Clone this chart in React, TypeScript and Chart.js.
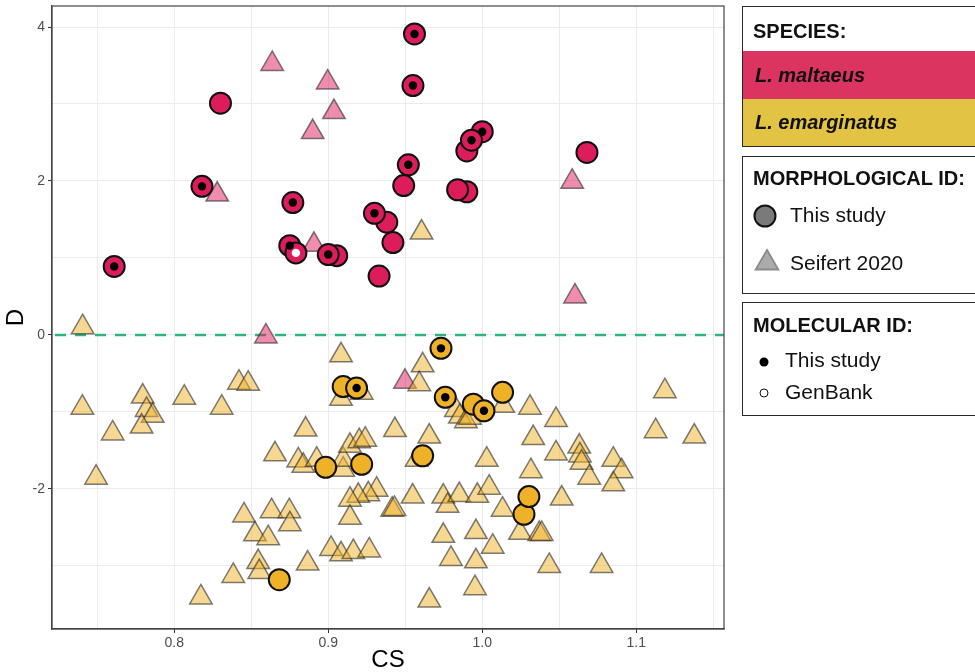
import React, { useEffect, useRef } from "react";
import { Chart, registerables } from "chart.js";
Chart.register(...registerables);

// ---- Data ----
// L. maltaeus, morphological ID: this study (circles). Molecular: S = this study, G = GenBank
const maltaeusStudyCS = [0.830, 0.818, 0.761, 0.877, 0.875, 0.879, 0.9055, 0.900, 0.942, 0.938, 0.930, 0.933, 0.956, 0.955, 1.000, 0.990, 0.993, 0.952, 0.949, 0.990, 0.984, 1.068];
const maltaeusStudyD = [3.01, 1.93, 0.89, 1.72, 1.16, 1.066, 1.03, 1.044, 1.20, 1.464, 1.58, 0.765, 3.91, 3.24, 2.64, 2.39, 2.53, 2.21, 1.94, 1.86, 1.886, 2.37];
const maltaeusStudyMol = ["", "S", "S", "S", "S", "G", "", "S", "", "", "S", "", "S", "S", "S", "", "S", "S", "", "", "", ""];

// L. emarginatus, morphological ID: this study (circles)
const emarginatusStudyCS = [0.9097, 0.9184, 0.8983, 0.9217, 0.8682, 0.9732, 0.976, 0.9942, 1.0011, 1.0132, 0.9613, 1.0271, 1.0303];
const emarginatusStudyD = [-0.67, -0.69, -1.72, -1.68, -3.18, -0.174, -0.81, -0.90, -0.985, -0.746, -1.57, -2.33, -2.10];
const emarginatusStudyMol = ["", "S", "", "", "", "S", "S", "", "S", "", "", "", ""];

// L. maltaeus, Seifert 2020 (triangles)
const maltaeusSeifertCS = [0.8636, 0.8996, 0.9037, 0.8899, 0.8279, 0.8907, 0.8595, 1.0584, 1.0602, 0.9498];
const maltaeusSeifertD = [3.52, 3.28, 2.895, 2.635, 1.824, 1.17, -0.02, 1.99, 0.50, -0.607];

// L. emarginatus, Seifert 2020 (triangles)
const emarginatusSeifertCS = [
  0.7405, 0.9606, 0.9083, 0.842, 0.848, 0.7795, 0.8065, 0.7403, 0.8308, 0.782, 0.786, 0.7788, 0.760, 0.9083, 0.9217,
  0.7492, 0.8853, 0.8654, 0.8805, 0.8838, 0.8925, 0.9097, 0.9097, 0.9141, 0.9201, 0.924, 0.9314, 0.926, 0.9195, 0.9141,
  0.9141, 0.8453, 0.8632, 0.8747, 0.8751, 0.8524, 0.861, 0.8545, 0.8552, 0.8383, 0.8866, 0.8173, 0.9018, 0.9083, 0.9163,
  0.9266, 0.9613, 0.9591, 0.9829, 0.9855, 0.9894, 0.992, 1.0136, 1.031, 1.0479, 0.9433, 0.9656, 1.0331, 1.0029, 1.0479,
  1.063, 1.0634, 1.0645, 1.0695, 1.0851, 1.0905, 1.0851, 1.1186, 1.1126, 1.1377, 0.9574, 1.0316, 0.9415, 0.943, 0.9548,
  0.9747, 0.9775, 0.9851, 0.9968, 1.0045, 1.0132, 1.0516, 1.0245, 1.037, 1.0386, 0.9747, 0.9959, 1.0068, 0.9797, 0.9959,
  1.0435, 1.0775, 0.9953, 0.9656,
];
const emarginatusSeifertD = [
  0.10, 1.33, -0.265, -0.62, -0.633, -0.80, -0.815, -0.945, -0.945, -0.975, -1.05, -1.19, -1.28, -0.83, -0.75,
  -1.855, -1.23, -1.55, -1.63, -1.70, -1.62, -1.75, -1.62, -1.44, -1.38, -1.36, -2.01, -2.07, -2.09, -2.14,
  -2.375, -2.345, -2.29, -2.29, -2.46, -2.59, -2.64, -2.95, -3.08, -3.13, -2.97, -3.41, -2.78, -2.85, -2.82,
  -2.80, -0.395, -0.64, -0.975, -1.06, -1.12, -1.075, -0.92, -0.945, -1.105, -1.235, -1.32, -1.34, -1.62, -1.54,
  -1.45, -1.565, -1.66, -1.855, -1.62, -1.77, -1.94, -0.73, -1.25, -1.32, -1.62, -1.77, -2.27, -2.26, -2.10,
  -2.10, -2.22, -2.08, -2.09, -1.985, -2.27, -2.125, -2.57, -2.585, -2.585, -2.61, -2.56, -2.75, -2.91, -2.94,
  -3.0, -3.0, -3.29, -3.45,
];

// Axis
const xMin = 0.7206;
const xMax = 1.157;
const yMin = -3.82;
const yMax = 4.273;
const xGridValues = [0.75, 0.8, 0.85, 0.9, 0.95, 1.0, 1.05, 1.1, 1.15];
const xLabelValues = [0.8, 0.9, 1.0, 1.1];
const yGridValues = [-3, -2, -1, 0, 1, 2, 3, 4];
const yLabelValues = [-2, 0, 2, 4];
const referenceD = 0;

// ---- Styles ----
const FONT = '"Liberation Sans", Arial, Helvetica, sans-serif';
const MAGENTA = "#DD1C5B";
const GOLD = "#EFB128";
const PINK_T = "rgba(221,28,91,0.5)";
const GOLD_T = "rgba(239,177,40,0.5)";
const TRI_BORDER = "rgba(40,40,40,0.6)";

const pts = (xs: number[], ys: number[]) => xs.map((x, i) => ({ x, y: ys[i] }));
const ptsMol = (xs: number[], ys: number[], mol: string[], flag: string) =>
  xs.map((x, i) => ({ x, y: ys[i], m: mol[i] })).filter((p) => p.m === flag).map((p) => ({ x: p.x, y: p.y }));

const near = (a: number, list: number[]) => list.some((v) => Math.abs(v - a) < 1e-6);

const frameAndRefLine = {
  id: "frameAndRefLine",
  beforeDatasetsDraw(chart: any) {
    const { ctx, chartArea, scales } = chart;
    const y = scales.y.getPixelForValue(referenceD);
    ctx.save();
    ctx.strokeStyle = "#2DB67C";
    ctx.lineWidth = 2.5;
    ctx.setLineDash([11, 9]);
    ctx.lineDashOffset = -3;
    ctx.beginPath();
    ctx.moveTo(chartArea.left, y);
    ctx.lineTo(chartArea.right, y);
    ctx.stroke();
    ctx.restore();
  },
  afterDraw(chart: any) {
    const { ctx, chartArea } = chart;
    ctx.save();
    ctx.strokeStyle = "#444";
    ctx.lineWidth = 1.2;
    ctx.strokeRect(chartArea.left, chartArea.top, chartArea.right - chartArea.left, chartArea.bottom - chartArea.top);
    ctx.restore();
  },
};

function Txt(props: { x: number; cy: number; children: any; style?: any }) {
  return (
    <div
      style={{
        position: "absolute",
        left: props.x,
        top: props.cy - 15,
        height: 30,
        lineHeight: "30px",
        whiteSpace: "nowrap",
        fontFamily: FONT,
        color: "#111",
        ...props.style,
      }}
    >
      {props.children}
    </div>
  );
}

export default function App() {
  const ref = useRef<HTMLCanvasElement>(null);

  useEffect(() => {
    const canvas = ref.current!;
    const chart = new Chart(canvas, {
      type: "scatter",
      data: {
        datasets: [
          {
            label: "Molecular: this study",
            data: [
              ...ptsMol(maltaeusStudyCS, maltaeusStudyD, maltaeusStudyMol, "S"),
              ...ptsMol(emarginatusStudyCS, emarginatusStudyD, emarginatusStudyMol, "S"),
            ],
            pointStyle: "circle",
            pointRadius: 4.2,
            pointBorderWidth: 0,
            backgroundColor: "#000",
            borderColor: "#000",
          },
          {
            label: "Molecular: GenBank",
            data: [
              ...ptsMol(maltaeusStudyCS, maltaeusStudyD, maltaeusStudyMol, "G"),
              ...ptsMol(emarginatusStudyCS, emarginatusStudyD, emarginatusStudyMol, "G"),
            ],
            pointStyle: "circle",
            pointRadius: 4.2,
            pointBorderWidth: 0,
            backgroundColor: "#fff",
            borderColor: "#fff",
          },
          {
            label: "L. maltaeus (this study)",
            data: pts(maltaeusStudyCS, maltaeusStudyD),
            pointStyle: "circle",
            pointRadius: 10.5,
            pointBorderWidth: 2,
            backgroundColor: MAGENTA,
            borderColor: "#111",
          },
          {
            label: "L. emarginatus (this study)",
            data: pts(emarginatusStudyCS, emarginatusStudyD),
            pointStyle: "circle",
            pointRadius: 10.5,
            pointBorderWidth: 2,
            backgroundColor: GOLD,
            borderColor: "#111",
          },
          {
            label: "L. emarginatus (Seifert 2020)",
            data: pts(emarginatusSeifertCS, emarginatusSeifertD),
            pointStyle: "triangle",
            pointRadius: 13,
            pointBorderWidth: 1.5,
            backgroundColor: GOLD_T,
            borderColor: TRI_BORDER,
          },
          {
            label: "L. maltaeus (Seifert 2020)",
            data: pts(maltaeusSeifertCS, maltaeusSeifertD),
            pointStyle: "triangle",
            pointRadius: 13,
            pointBorderWidth: 1.5,
            backgroundColor: PINK_T,
            borderColor: TRI_BORDER,
          },
        ],
      },
      options: {
        responsive: false,
        animation: false,
        devicePixelRatio: 1,
        events: [],
        layout: { autoPadding: false, padding: { left: 0, top: 6, right: 251, bottom: 0 } },
        plugins: { legend: { display: false }, tooltip: { enabled: false } },
        scales: {
          x: {
            type: "linear",
            min: xMin,
            max: xMax,
            afterBuildTicks: (s: any) => {
              s.ticks = xGridValues.map((v) => ({ value: v }));
            },
            afterFit: (s: any) => {
              s.height = 43;
              s.paddingLeft = 0;
              s.paddingRight = 0;
            },
            ticks: {
              autoSkip: false,
              maxRotation: 0,
              padding: 2,
              color: "#4d4d4d",
              font: { family: FONT, size: 14 },
              callback: (v: any) => (near(Number(v), xLabelValues) ? Number(v).toFixed(1) : ""),
            },
            grid: {
              color: "#ebebeb",
              lineWidth: 1,
              tickLength: 4,
              tickColor: (c: any) => (c.tick && near(c.tick.value, xLabelValues) ? "#333" : "rgba(0,0,0,0)"),
            },
            border: { display: true, color: "#444", width: 1.2 },
            title: {
              display: true,
              text: "CS",
              color: "#000",
              font: { family: FONT, size: 24, lineHeight: 1 },
              padding: { top: 0, bottom: 0 },
            },
          },
          y: {
            type: "linear",
            min: yMin,
            max: yMax,
            afterBuildTicks: (s: any) => {
              s.ticks = yGridValues.map((v) => ({ value: v }));
            },
            afterFit: (s: any) => {
              s.width = 52;
              s.paddingTop = 0;
              s.paddingBottom = 0;
            },
            ticks: {
              autoSkip: false,
              padding: 3,
              color: "#4d4d4d",
              font: { family: FONT, size: 14 },
              callback: (v: any) => (near(Number(v), yLabelValues) ? String(v) : ""),
            },
            grid: {
              color: "#ebebeb",
              lineWidth: 1,
              tickLength: 4,
              tickColor: (c: any) => (c.tick && near(c.tick.value, yLabelValues) ? "#333" : "rgba(0,0,0,0)"),
            },
            border: { display: true, color: "#444", width: 1.2 },
            title: {
              display: true,
              text: "D",
              color: "#000",
              font: { family: FONT, size: 24, lineHeight: 1 },
              padding: { top: 4, bottom: 0 },
            },
          },
        },
      },
      plugins: [frameAndRefLine],
    } as any);
    return () => chart.destroy();
  }, []);

  const boxBorder = "1.5px solid #2b2b2b";
  const titleStyle = { fontWeight: "bold", fontSize: 20 };
  const speciesStyle = { fontWeight: "bold", fontStyle: "italic", fontSize: 20 };
  const itemStyle = { fontSize: 21 };

  return (
    <div
      style={{
        position: "fixed",
        left: 0,
        top: 0,
        width: 975,
        height: 672,
        overflow: "hidden",
        background: "#fff",
      }}
    >
      <canvas ref={ref} width={975} height={672} style={{ position: "absolute", left: 0, top: 0, width: 975, height: 672 }} />

      {/* Species legend */}
      <div style={{ position: "absolute", left: 742, top: 6, width: 260, height: 141, border: boxBorder, boxSizing: "border-box", overflow: "hidden" }}>
        <div style={{ position: "absolute", left: 0, top: 43.5, width: "100%", height: 48, background: "#DB3461" }} />
        <div style={{ position: "absolute", left: 0, top: 91.5, width: "100%", height: 50, background: "#E2C343" }} />
      </div>
      <Txt x={753} cy={31} style={titleStyle}>SPECIES:</Txt>
      <Txt x={755} cy={75} style={speciesStyle}>L. maltaeus</Txt>
      <Txt x={755} cy={122} style={speciesStyle}>L. emarginatus</Txt>

      {/* Morphological ID legend */}
      <div style={{ position: "absolute", left: 742, top: 156, width: 260, height: 138, border: boxBorder, boxSizing: "border-box" }} />
      <Txt x={753} cy={178} style={titleStyle}>MORPHOLOGICAL ID:</Txt>
      <svg style={{ position: "absolute", left: 750, top: 201 }} width={30} height={30}>
        <circle cx={15} cy={15} r={10.5} fill="#7a7a7a" stroke="#111" strokeWidth={2} />
      </svg>
      <Txt x={790} cy={215} style={itemStyle}>This study</Txt>
      <svg style={{ position: "absolute", left: 750, top: 246 }} width={34} height={32}>
        <polygon points="17,4 28.3,23.5 5.7,23.5" fill="#ababab" stroke="#8a8a8a" strokeWidth={1.8} />
      </svg>
      <Txt x={790} cy={263} style={itemStyle}>Seifert 2020</Txt>

      {/* Molecular ID legend */}
      <div style={{ position: "absolute", left: 742, top: 302, width: 260, height: 114, border: boxBorder, boxSizing: "border-box" }} />
      <Txt x={753} cy={325} style={titleStyle}>MOLECULAR ID:</Txt>
      <svg style={{ position: "absolute", left: 754, top: 352 }} width={20} height={20}>
        <circle cx={10} cy={10} r={4.5} fill="#000" />
      </svg>
      <Txt x={785} cy={360} style={itemStyle}>This study</Txt>
      <svg style={{ position: "absolute", left: 754, top: 383 }} width={20} height={20}>
        <circle cx={10} cy={10} r={4} fill="#fff" stroke="#111" strokeWidth={1} />
      </svg>
      <Txt x={785} cy={392} style={itemStyle}>GenBank</Txt>
    </div>
  );
}
